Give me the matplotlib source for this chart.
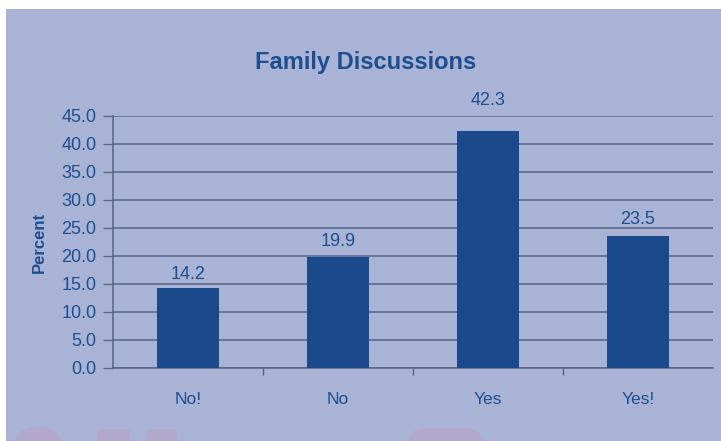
import matplotlib.pyplot as plt
import numpy as np
from matplotlib.patches import Rectangle, FancyBboxPatch

categories = ["No!", "No", "Yes", "Yes!"]
percent = [14.2, 19.9, 42.3, 23.5]
y_ticks = [0, 5, 10, 15, 20, 25, 30, 35, 40, 45]

plt.rcParams['font.family'] = ['Liberation Sans', 'DejaVu Sans']

W, H = 721, 441
bg = "#a9b3d6"
bar_col = "#1a4a8c"
txt_col = "#1f4e8e"
grid_col = "#55648a"
faint = "#b2a8cc"

fig = plt.figure(figsize=(W / 100, H / 100), dpi=100, facecolor="white")
# panel behind the chart, leaving a thin white edge top and left
fig.patches.append(Rectangle((6 / W, 0), 1, (H - 9) / H, transform=fig.transFigure,
                             facecolor=bg, edgecolor="none", zorder=-10))

# faint shapes showing at the bottom edge
for x0, x1, top, rnd in [(13, 63, 427, 0.5), (97, 130, 429, 0.1),
                         (147, 177, 429, 0.1), (408, 483, 428, 0.25)]:
    w = (x1 - x0) / W
    h = (H - top) / H + 0.05
    fig.patches.append(FancyBboxPatch((x0 / W, -0.05), w, h, transform=fig.transFigure,
                                      boxstyle=f"round,pad=0,rounding_size={rnd * w:.4f}",
                                      mutation_aspect=W / H,
                                      facecolor=faint, edgecolor="none", zorder=-5))

ax = fig.add_axes([113 / W, (H - 368) / H, 600 / W, 252 / H])
ax.set_facecolor("none")

x = np.arange(len(categories))
ax.bar(x, percent, width=0.41, color=bar_col, zorder=3)
label_gap = [4, 5, 16, 6]
for xi, v, g in zip(x, percent, label_gap):
    ax.annotate(f"{v:.1f}", (xi, v), xytext=(0, g), textcoords="offset points",
                ha="center", va="bottom", fontsize=13, color=txt_col)

ax.set_xlim(-0.5, len(categories) - 0.5)
ax.set_ylim(0, 45)
ax.set_yticks(y_ticks)
ax.set_yticklabels([f"{t:.1f}" for t in y_ticks])
ax.yaxis.grid(True, color=grid_col, linewidth=1.1, zorder=0)
ax.set_axisbelow(True)

# category labels centred, tick marks between categories
ax.set_xticks(x)
ax.set_xticklabels(categories)
ax.set_xticks(np.arange(0.5, len(categories) - 1, 1), minor=True)
ax.tick_params(axis="x", which="major", length=0, pad=17, labelsize=12.5, labelcolor=txt_col)
ax.tick_params(axis="x", which="minor", length=5, width=1, color=grid_col, direction="out")
ax.tick_params(axis="y", length=7, width=1, color=grid_col, pad=5, labelsize=13,
               labelcolor=txt_col)

for side in ["top", "right"]:
    ax.spines[side].set_visible(False)
ax.spines["left"].set_color(grid_col)
ax.spines["bottom"].set_color(grid_col)
ax.spines["left"].set_linewidth(1.1)
ax.spines["bottom"].set_linewidth(1.1)

ax.set_ylabel("Percent", fontsize=12, fontweight="bold", color=txt_col, labelpad=10)
fig.text(366 / W, (H - 63) / H, "Family Discussions", fontsize=17, fontweight="bold",
         color=txt_col, ha="center", va="center")

fig.savefig("out.png", dpi=100, facecolor=fig.get_facecolor())
